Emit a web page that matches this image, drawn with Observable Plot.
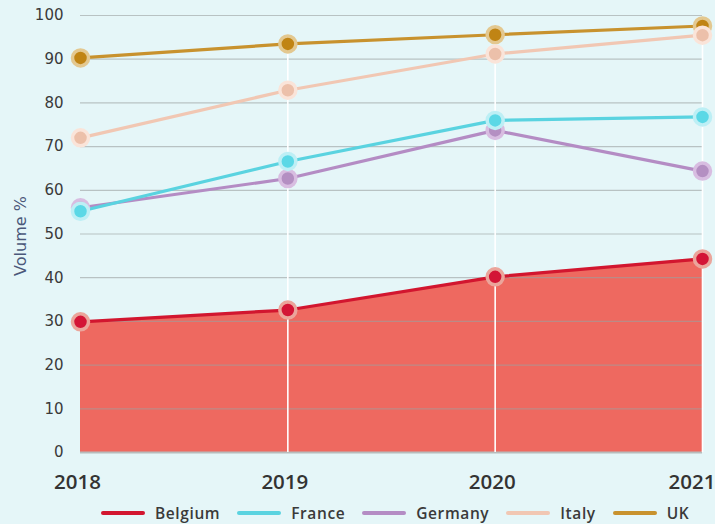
<!DOCTYPE html>
<html>
<head>
<meta charset="utf-8">
<script src="https://cdn.jsdelivr.net/npm/d3@7"></script>
<script src="https://cdn.jsdelivr.net/npm/@observablehq/plot@0.6"></script>
<style>
  html, body { margin: 0; padding: 0; background: #e5f6f8; }
  body { width: 715px; height: 524px; overflow: hidden; font-family: "Open Sans", sans-serif; }
  #chart svg { display: block; background: #e5f6f8; }
  #legend { display: flex; align-items: center; margin-left: 101px; padding-top: 6px; height: 23px; font-size: 15.5px; font-weight: 600; color: #3a3a3a; letter-spacing: 0.6px; }
  #legend .item { display: flex; align-items: center; margin-right: 17px; }
  #legend .sw { width: 44px; height: 4px; border-radius: 2px; margin-right: 10px; }
</style>
</head>
<body>
<div id="chart"></div>
<div id="legend"></div>
<script>
const years = [2018, 2019, 2020, 2021];
const countries = ["Belgium", "France", "Germany", "Italy", "UK"];
const belgium = [29.9, 32.6, 40.2, 44.3];
const france  = [55.2, 66.6, 76.0, 76.8];
const germany = [56.0, 62.7, 73.7, 64.4];
const italy   = [72.0, 82.9, 91.2, 95.5];
const uk      = [90.3, 93.5, 95.6, 97.6];
const yTicks = [0, 10, 20, 30, 40, 50, 60, 70, 80, 90, 100];

const seriesValues = {Belgium: belgium, France: france, Germany: germany, Italy: italy, UK: uk};
const lineColor = {Belgium: "#d2162f", France: "#5ad3e0", Germany: "#b48cc4", Italy: "#f1c7b3", UK: "#c8922e"};
const dotFill   = {Belgium: "#d31536", France: "#5bd8e6", Germany: "#b48fc2", Italy: "#ecc0aa", UK: "#c08414"};
const dotRing   = {Belgium: "#eba59b", France: "#bdeff5", Germany: "#d8bde1", Italy: "#fae4d9", UK: "#e3c890"};
const drawOrder = ["Belgium", "Germany", "France", "UK", "Italy"];

const rows = [];
for (const c of drawOrder) seriesValues[c].forEach((v, i) => rows.push({country: c, year: years[i], value: v}));
const belRows = rows.filter(d => d.country === "Belgium");
const maxRows = years.slice(1).map((y, i) => ({year: y, top: d3.max(countries, c => seriesValues[c][i + 1])}));

const marks = [
  Plot.areaY(belRows, {x: "year", y: "value", fill: "#ee6960"}),
  Plot.ruleY(yTicks.filter(t => t > 0), {y: d => d, x1: () => years[0], x2: () => years[years.length - 1], stroke: "#9aa0a0", strokeOpacity: 0.6, strokeWidth: 1.2}),
  Plot.ruleY([0], {x1: () => years[0], x2: () => years[years.length - 1], stroke: "#b8bcbc", strokeWidth: 2}),
  Plot.ruleX(maxRows, {x: "year", y1: 0, y2: "top", stroke: "#ffffff", strokeWidth: 1.6}),
];
for (const c of drawOrder) {
  const r = rows.filter(d => d.country === c);
  marks.push(Plot.lineY(r, {x: "year", y: "value", stroke: lineColor[c], strokeWidth: 3.2}));
}
for (const c of drawOrder) {
  const r = rows.filter(d => d.country === c);
  marks.push(Plot.dot(r, {x: "year", y: "value", r: 8, fill: dotFill[c], stroke: dotRing[c], strokeWidth: 3.5}));
}
const yFont = "DejaVu Sans, sans-serif";
marks.push(
  Plot.axisY({ticks: yTicks, tickSize: 0, tickPadding: 17, fontSize: 15, fontFamily: yFont, color: "#3a3a3a", label: null}),
  Plot.axisX(years.slice(0, 3), {tickSize: 0, tickPadding: 22, fontSize: 20.5, fontWeight: 600, color: "#333", tickFormat: d => String(d), dx: -3, label: null}),
  Plot.axisX(years.slice(3), {tickSize: 0, tickPadding: 22, fontSize: 20.5, fontWeight: 600, color: "#333", tickFormat: d => String(d), textAnchor: "end", dx: 13, label: null}),
  Plot.text(["Volume %"], {frameAnchor: "left", textAnchor: "middle", dx: -60, dy: 2, rotate: -90, fontSize: 16, fontFamily: yFont, fill: "#4b587a", text: d => d})
);

const chart = Plot.plot({
  width: 715,
  height: 495,
  marginLeft: 80,
  marginRight: 13,
  marginTop: 15,
  marginBottom: 43,
  style: {background: "#e5f6f8", fontFamily: "Open Sans, sans-serif", overflow: "visible"},
  x: {domain: [years[0], years[years.length - 1]]},
  y: {domain: [0, 100]},
  marks
});
document.getElementById("chart").appendChild(chart);

const legend = document.getElementById("legend");
for (const c of countries) {
  const it = document.createElement("div");
  it.className = "item";
  it.innerHTML = `<span class="sw" style="background:${lineColor[c]}"></span><span>${c}</span>`;
  legend.appendChild(it);
}
</script>
</body>
</html>
